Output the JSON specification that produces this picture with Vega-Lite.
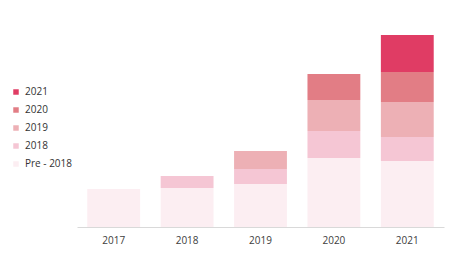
{
  "$schema": "https://vega.github.io/schema/vega-lite/v6.json",
  "width": 367,
  "height": 200,
  "autosize": {"type": "none"},
  "padding": {"left": 77, "top": 27, "right": 7, "bottom": 28},
  "background": "white",
  "config": {
    "view": {"stroke": null},
    "font": "Open Sans"
  },
  "data": {
    "values": [
      {"year": "2017", "series": "Pre - 2018", "value": 38},
      {"year": "2018", "series": "Pre - 2018", "value": 39},
      {"year": "2018", "series": "2018", "value": 12},
      {"year": "2019", "series": "Pre - 2018", "value": 43},
      {"year": "2019", "series": "2018", "value": 15},
      {"year": "2019", "series": "2019", "value": 18},
      {"year": "2020", "series": "Pre - 2018", "value": 69},
      {"year": "2020", "series": "2018", "value": 27},
      {"year": "2020", "series": "2019", "value": 31},
      {"year": "2020", "series": "2020", "value": 26},
      {"year": "2021", "series": "Pre - 2018", "value": 66},
      {"year": "2021", "series": "2018", "value": 24},
      {"year": "2021", "series": "2019", "value": 35},
      {"year": "2021", "series": "2020", "value": 30},
      {"year": "2021", "series": "2021", "value": 37}
    ]
  },
  "transform": [
    {"calculate": "indexof(['Pre - 2018', '2018', '2019', '2020', '2021'], datum.series)", "as": "rank"}
  ],
  "mark": {"type": "bar"},
  "encoding": {
    "x": {
      "field": "year",
      "type": "nominal",
      "scale": {"paddingInner": 0.28, "paddingOuter": 0.14},
      "axis": {
        "title": null,
        "labelAngle": 0,
        "ticks": false,
        "domainColor": "#d9d9d9",
        "labelColor": "#404040",
        "labelFontSize": 10,
        "labelPadding": 8
      }
    },
    "y": {
      "field": "value",
      "type": "quantitative",
      "stack": "zero",
      "scale": {"domain": [0, 200], "nice": false},
      "axis": null
    },
    "order": {"field": "rank", "type": "quantitative", "sort": "ascending"},
    "color": {
      "field": "series",
      "type": "nominal",
      "scale": {
        "domain": ["2021", "2020", "2019", "2018", "Pre - 2018"],
        "range": ["#E03C64", "#E27D85", "#EDB0B5", "#F5C6D4", "#FCEEF2"]
      },
      "legend": {
        "title": null,
        "orient": "none",
        "legendX": -66,
        "legendY": 60,
        "padding": 0,
        "symbolType": "square",
        "symbolSize": 30,
        "symbolStrokeWidth": 0,
        "labelFontSize": 10,
        "labelColor": "#333333",
        "labelOffset": 4,
        "rowPadding": 8
      }
    }
  }
}
